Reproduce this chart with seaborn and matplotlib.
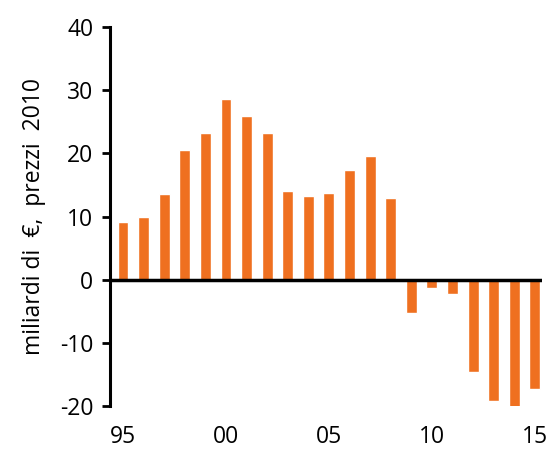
import matplotlib
matplotlib.use('Agg')
import matplotlib.pyplot as plt
import seaborn as sns
import pandas as pd

# Data
years = [str(y) for y in range(1995, 2016)]
values = [9.2, 10.0, 13.5, 20.6, 23.3, 28.7, 25.9, 23.3, 14.0, 13.3, 13.8,
          17.3, 19.6, 13.0, -5.3, -1.3, -2.3, -14.7, -19.2, -20.3, -17.4]
tick_labels = ['95', '00', '05', '10', '15']
y_ticks = [-20, -10, 0, 10, 20, 30, 40]

df = pd.DataFrame({'year': years, 'value': values})

sns.set_style('white')
plt.rcParams['font.family'] = ['Open Sans', 'DejaVu Sans']
plt.rcParams['text.color'] = 'black'
plt.rcParams['xtick.color'] = 'black'
plt.rcParams['ytick.color'] = 'black'
plt.rcParams['axes.labelcolor'] = 'black'

fig = plt.figure(figsize=(5.49, 4.53), dpi=100)
ax = fig.add_axes([0.2004, 0.104, 0.787, 0.836])

sns.barplot(data=df, x='year', y='value', color='#EF7020', width=0.53,
            saturation=1, ax=ax)

ax.axhline(0, color='black', linewidth=2.5, zorder=5)
ax.set_xlim(-0.63, 20.35)
ax.set_ylim(-20, 40)
ax.set_yticks(y_ticks)
ax.set_yticklabels([str(t) for t in y_ticks], fontsize=16.5)
ax.set_xticks([0, 5, 10, 15, 20])
ax.set_xticklabels(tick_labels, fontsize=16.5)
ax.tick_params(axis='x', length=0, pad=14)
ax.tick_params(axis='y', direction='out', length=6, width=2, left=True, pad=6)

for side in ['top', 'right', 'bottom']:
    ax.spines[side].set_visible(False)
ax.spines['left'].set_linewidth(2.2)
ax.spines['left'].set_color('black')

ax.set_xlabel('')
ax.set_ylabel('miliardi di  €,  prezzi  2010', fontsize=16.5, labelpad=10)

fig.savefig('out.png', dpi=100)
